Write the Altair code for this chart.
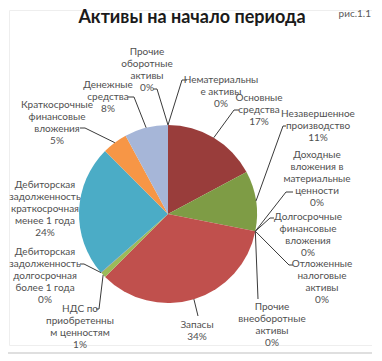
import math
import altair as alt
import pandas as pd

# ---------------- data ----------------
categories = [
    "Нематериальные активы",
    "Основные средства",
    "Незавершенное производство",
    "Доходные вложения в материальные ценности",
    "Долгосрочные финансовые вложения",
    "Отложенные налоговые активы",
    "Прочие внеоборотные активы",
    "Запасы",
    "НДС по приобретенным ценностям",
    "Дебиторская задолженность долгосрочная более 1 года",
    "Дебиторская задолженность краткосрочная менее 1 года",
    "Краткосрочные финансовые вложения",
    "Денежные средства",
    "Прочие оборотные активы",
]
values = [0, 17.2, 10.9, 0, 0, 0, 0, 34.4, 1.0, 0.1, 23.9, 4.6, 7.9, 0]
pct_labels = ["0%", "17%", "11%", "0%", "0%", "0%", "0%", "34%", "1%", "0%", "24%", "5%", "8%", "0%"]
label_lines = [
    ["Нематериальны", "е активы"],
    ["Основные", "средства"],
    ["Незавершенное", "производство"],
    ["Доходные", "вложения в", "материальные", "ценности"],
    ["Долгосрочные", "финансовые", "вложения"],
    ["Отложенные", "налоговые", "активы"],
    ["Прочие", "внеоборотные", "активы"],
    ["Запасы"],
    ["НДС по", "приобретенны", "м ценностям"],
    ["Дебиторская", "задолженность", "долгосрочная", "более 1 года"],
    ["Дебиторская", "задолженность", "краткосрочная", "менее 1 года"],
    ["Краткосрочные", "финансовые", "вложения"],
    ["Денежные", "средства"],
    ["Прочие", "оборотные", "активы"],
]
colors = ["#4F81BD", "#993D3B", "#7E9C45", "#6B548A", "#3E8FA6", "#E0823A",
          "#4F81BD", "#C0504D", "#9BBB59", "#8064A2", "#4BACC6", "#F79646",
          "#A6B6D8", "#C0504D"]
title_text = "Активы на начало периода"
fig_text = "рис.1.1"

# ---------------- layout (screen px) ----------------
OX, OY = 9, 10            # view origin on page
PIE_CX, PIE_CY, PIE_R = 168, 214, 89
# (center x, first-line center y)
label_pos = [(221, 80), (259, 98), (318, 114), (317, 155), (308, 217), (322, 264),
             (272, 307), (197, 325), (80, 309), (45, 252), (45, 185), (57, 105),
             (108, 85), (147, 52)]
leader_pts = [((187, 80), (182, 80)), ((239, 110), (234, 110)), ((286, 126), (283, 126)),
              ((293, 192), (286, 192)), ((274, 218), (270, 218)), ((293, 265), (289, 265)),
              ((258, 299), (258, 299)), ((198, 316), (198, 316)), ((96, 309), (99, 309)),
              ((80, 264), (84, 264)), None, ((80, 128), (85, 128)),
              ((128, 97), (134, 97)), ((153, 89), (157, 89))]

CX, CY = PIE_CX - OX, PIE_CY - OY
FONT = "Lato"
TXT_COLOR = "#505050"

df = pd.DataFrame({"cat": categories, "value": values, "idx": list(range(len(categories)))})

pie = alt.Chart(df).mark_arc(radius=PIE_R).encode(
    theta=alt.Theta("value:Q", stack=True),
    order=alt.Order("idx:Q"),
    color=alt.Color("cat:N", scale=alt.Scale(domain=categories, range=colors), legend=None),
    x=alt.value(CX),
    y=alt.value(CY),
)

# leader lines: from label stub to mid-angle of the slice on the pie edge
total = sum(values)
rows = []
cum = 0.0
for i, v in enumerate(values):
    mid = (cum + v / 2) / total
    cum += v
    if leader_pts[i] is None:
        continue
    a = 2 * math.pi * mid
    px = CX + PIE_R * math.sin(a)
    py = CY - PIE_R * math.cos(a)
    (sx, sy), (ex, ey) = leader_pts[i]
    rows.append({"lid": i, "seq": 0, "px": sx - OX, "py": sy - OY})
    rows.append({"lid": i, "seq": 1, "px": ex - OX, "py": ey - OY})
    rows.append({"lid": i, "seq": 2, "px": px, "py": py})
lead_df = pd.DataFrame(rows)

leaders = alt.Chart(lead_df).mark_line(color="#3a3a3a", strokeWidth=1).encode(
    x=alt.X("px:Q", scale=None, axis=None),
    y=alt.Y("py:Q", scale=None, axis=None),
    detail="lid:N",
    order="seq:Q",
)

lab_df = pd.DataFrame({
    "text": ["\n".join(label_lines[i] + [pct_labels[i]]) for i in range(len(categories))],
    "tx": [p[0] - OX for p in label_pos],
    "ty": [p[1] - OY for p in label_pos],
})
labels = alt.Chart(lab_df).mark_text(
    lineBreak="\n", align="center", baseline="middle", fontSize=10,
    lineHeight=12, font=FONT, color=TXT_COLOR,
).encode(
    x=alt.X("tx:Q", scale=None, axis=None),
    y=alt.Y("ty:Q", scale=None, axis=None),
    text="text:N",
)

title = alt.Chart(pd.DataFrame({"t": [title_text]})).mark_text(
    font=FONT, fontSize=18, fontWeight="bold", color="#1a1a1a", align="center", baseline="alphabetic"
).encode(x=alt.value(192 - OX), y=alt.value(23 - OY), text="t:N")

fig = alt.Chart(pd.DataFrame({"t": [fig_text]})).mark_text(
    font=FONT, fontSize=10, color="#595959", align="right", baseline="middle"
).encode(x=alt.value(371 - OX), y=alt.value(14 - OY), text="t:N")

bottom_line = alt.Chart(pd.DataFrame({"a": [0]})).mark_rule(color="#d4d4d4", strokeWidth=1.5).encode(
    x=alt.value(-OX), x2=alt.value(372), y=alt.value(353 - OY)
)

chart = alt.layer(pie, leaders, labels, title, fig, bottom_line).properties(
    width=363, height=335,
    autosize=alt.AutoSizeParams(type="none"),
    padding={"left": 1, "top": 2, "right": 0, "bottom": 10},
    background="white",
).configure_view(stroke="#eeeeee", strokeWidth=1)

chart.save("out.html", embed_options={"renderer": "svg", "actions": False})
